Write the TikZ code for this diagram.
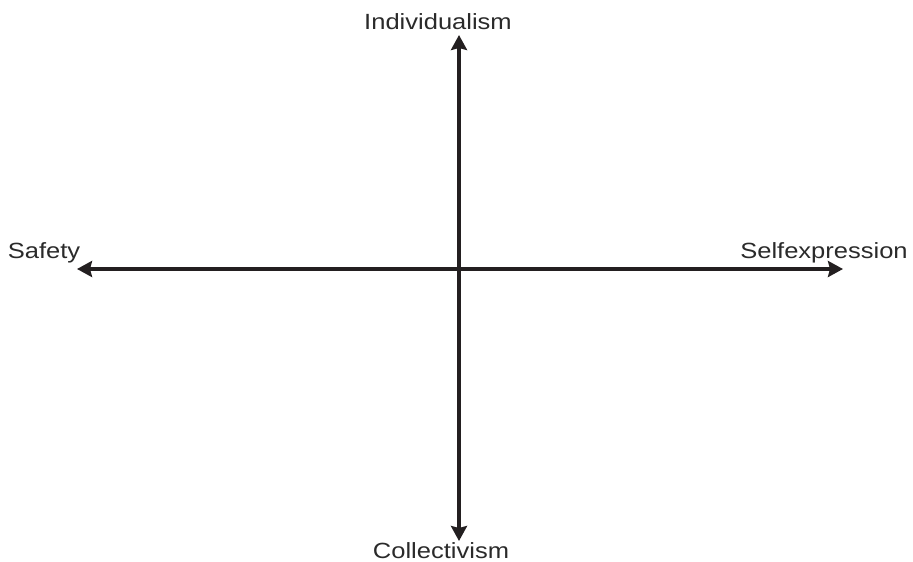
\documentclass[tikz,border=0pt]{standalone}
\usepackage{fontspec}
\setmainfont{Liberation Sans}
\usetikzlibrary{arrows.meta}
\definecolor{axis}{HTML}{231F20}
\definecolor{lbl}{HTML}{2A2A2A}
\begin{document}
\begin{tikzpicture}[x=1pt,y=-1pt,
  axisline/.style={draw=axis,line width=4pt,{Stealth[length=15pt,width=16pt,inset=2pt]}-{Stealth[length=15pt,width=16pt,inset=2pt]}},
  lab/.style={inner sep=0pt,text=lbl,font=\fontsize{22}{22}\selectfont,anchor=base}]
\useasboundingbox (0,0) rectangle (913,562);
\coordinate (top) at (459,35);
\coordinate (bot) at (459,541);
\coordinate (lft) at (77,269);
\coordinate (rgt) at (843,269);
\draw[axisline] (bot) -- (top);
\draw[axisline] (lft) -- (rgt);
\node[lab] (ind) at (438,29) {\scalebox{1.16}[1]{Individualism}};
\node[lab] (col) at (441,558) {\scalebox{1.16}[1]{Collectivism}};
\node[lab] (saf) at (44,258) {\scalebox{1.16}[1]{Safety}};
\node[lab] (sel) at (824,258) {\scalebox{1.16}[1]{Selfexpression}};
\end{tikzpicture}
\end{document}
